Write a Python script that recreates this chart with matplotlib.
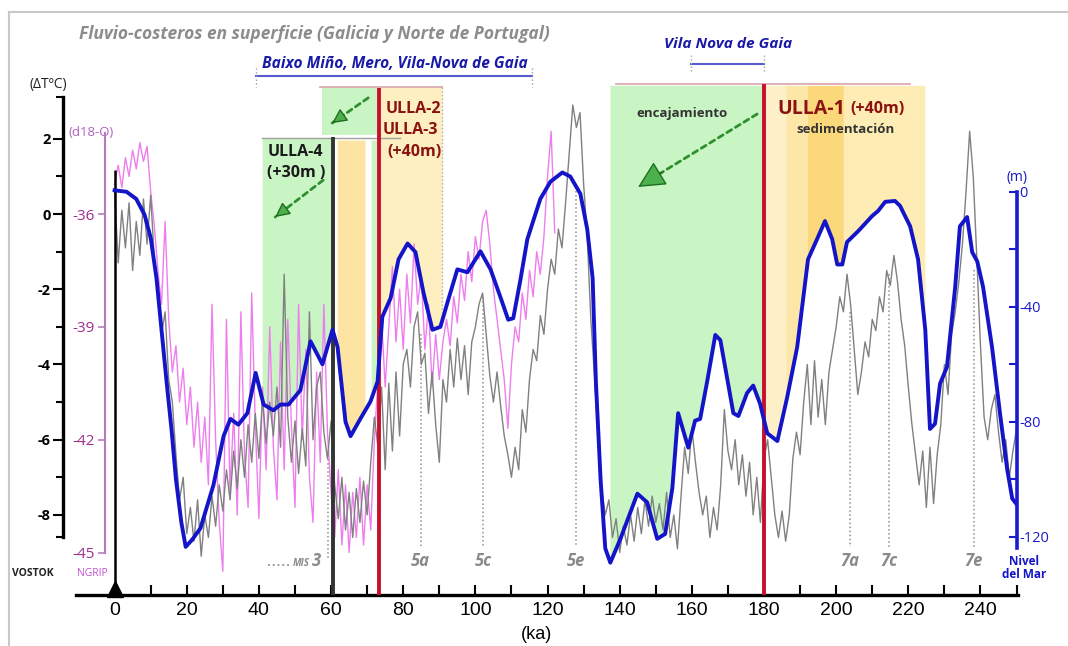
import numpy as np
import matplotlib.pyplot as plt
from matplotlib.lines import Line2D

FONT = ['Open Sans', 'DejaVu Sans']
NARROW = ['Liberation Sans Narrow', 'Liberation Sans', 'DejaVu Sans']
plt.rcParams['font.family'] = FONT

# VOSTOK temperature anomaly (deg C), one value per ka
vostok_age = np.arange(0, 251)
vostok_dT = [
    0.6, -1.3, 0.1, -0.9, 0.3, -1.5, -0.2, -1.1, 0.4, -0.8,
    0.5, -1.2, -1.8, -3.2, -2.6, -4.4, -5.0, -6.4, -7.6, -7.0,
    -8.5, -7.8, -8.7, -7.6, -9.1, -8.0, -8.6, -7.5, -8.3, -7.2,
    -7.9, -6.8, -7.6, -6.3, -7.3, -6.0, -7.0, -5.6, -6.6, -5.3,
    -6.5, -4.9, -6.1, -5.0, -5.9, -4.6, -6.2, -1.6, -5.4, -6.6,
    -5.5, -6.9, -5.7, -6.7, -2.6, -6.0, -4.6, -4.2, -5.8, -6.5,
    -5.5, -7.2, -8.1, -7.0, -8.4, -7.4, -8.6, -7.3, -8.2, -7.1,
    -8.0, -6.6, -5.4, -6.2, -4.6, -6.8, -4.5, -6.3, -4.2, -5.9,
    -4.0, -3.6, -4.6, -3.0, -2.6, -4.0, -3.7, -5.3, -4.2, -5.6,
    -6.6, -4.4, -5.0, -3.6, -4.6, -3.3, -4.4, -3.5, -4.8, -3.4,
    -3.0, -2.4, -2.1, -3.2, -4.3, -5.0, -4.2, -5.1, -5.9, -6.4,
    -7.0, -6.2, -6.8, -5.2, -5.8, -4.4, -3.6, -3.9, -2.7, -3.2,
    -2.0, -1.2, -1.6, -0.4, -0.9, 0.3, 1.6, 2.9, 2.3, 2.7,
    0.8, -0.6, -2.8, -4.3, -6.0, -7.3, -8.0, -7.6, -8.6, -8.1,
    -9.0, -8.3, -8.8, -8.0, -8.7, -7.8, -8.5, -7.6, -8.3, -7.5,
    -8.2, -7.7, -8.4, -7.4, -8.6, -8.0, -8.9, -7.5, -6.2, -6.9,
    -5.7, -6.6, -7.4, -8.0, -7.5, -8.6, -7.8, -8.4, -7.2, -5.2,
    -6.3, -6.8, -6.0, -7.2, -6.4, -7.5, -6.6, -8.0, -7.0, -8.2,
    -6.5, -6.0, -7.0, -8.0, -8.6, -7.9, -8.7, -8.0, -6.5, -5.8,
    -6.4, -5.0, -4.0, -5.6, -3.9, -5.4, -4.4, -5.6, -4.2, -3.6,
    -3.0, -2.2, -2.6, -1.6, -2.4, -3.6, -4.8, -4.2, -3.4, -3.8,
    -2.8, -3.1, -2.2, -2.6, -1.5, -1.9, -1.1, -1.8, -2.8, -3.5,
    -4.6, -5.6, -6.4, -7.2, -6.3, -7.8, -6.2, -7.7, -6.4, -5.6,
    -4.0, -4.8, -3.2, -2.6, -1.8, -0.8, 0.6, 2.2, 1.0, -1.2,
    -3.5, -5.4, -6.0, -5.2, -4.8, -5.8, -6.6, -6.0, -7.0, -6.3,
    -5.7]

# NGRIP d18-O (permil), one value per ka
ngrip_age = np.arange(0, 123)
ngrip_d18o = [
    -35.2, -34.7, -35.3, -34.5, -35.0, -34.3, -34.8, -34.1, -34.6, -34.2,
    -35.4, -36.3, -37.5, -38.4, -36.2, -38.8, -40.2, -39.5, -41.0, -40.1,
    -41.6, -40.6, -42.2, -41.0, -42.6, -41.4, -43.2, -38.4, -42.0, -44.2,
    -45.5, -38.8, -43.4, -41.3, -44.0, -38.6, -42.4, -43.8, -38.1, -41.6,
    -44.1, -40.6, -42.8, -39.0, -42.2, -43.6, -39.4, -42.8, -38.8, -41.6,
    -43.8, -38.4, -42.0, -39.6, -43.0, -44.2, -40.2, -42.6, -38.4, -41.8,
    -43.4, -44.6, -42.8, -44.8, -43.2, -45.0, -43.4, -44.6, -43.0, -44.8,
    -43.2, -44.4, -42.0, -40.4, -38.8, -40.6, -39.0, -37.4, -39.4, -38.0,
    -39.6, -37.6, -38.9, -36.8, -38.4, -37.6, -39.6, -38.4, -40.6, -39.2,
    -40.4, -39.4, -38.8, -39.5, -38.2, -38.9, -37.6, -38.3, -37.0, -37.8,
    -36.6, -37.2, -36.2, -35.9, -36.8, -38.0, -38.8, -39.6, -40.4, -41.7,
    -40.0, -39.0, -39.4, -38.1, -38.8, -37.5, -38.2, -37.0, -37.6, -36.6,
    -35.0, -33.8, -36.5]

# sea level curve (m)
sea_age = [0, 3.3, 6, 8.3, 10, 11.6, 13, 14.4, 15.8, 17, 18.5, 19.7, 21.5, 23.8,
           27.4, 30.2, 32.1, 34.3, 36.8, 39.1, 41.3, 44.0, 46.0, 48.2, 51.5, 54.3,
           57.6, 60.4, 61.8, 64.0, 65.4, 68.1, 70.9, 72.9, 74.2, 76.5, 78.7, 81.2,
           83.4, 85.6, 88.1, 90.3, 92.5, 95.0, 97.8, 101.4, 104.2, 106.9, 109.1,
           110.5, 112.5, 114.4, 118.0, 120.8, 124.1, 126.3, 129.1, 131.0, 132.5,
           133.4, 134.7, 136.0, 137.4, 140.2, 144.9, 147.6, 150.4, 152.6, 154.6,
           156.2, 159.0, 160.9, 162.3, 164.3, 166.5, 167.9, 171.5, 172.9, 175.3,
           177.0, 178.9, 180.9, 183.7, 186.4, 189.2, 192.2, 194.7, 196.9, 198.9,
           200.3, 201.7, 203.0, 206.1, 210.0, 211.6, 213.6, 216.3, 217.7, 220.5,
           222.7, 224.7, 226.0, 227.4, 228.8, 230.7, 233.0, 234.3, 236.3, 237.7,
           239.1, 240.7, 243.2, 245.4, 247.4, 248.8, 250.1]
sea_level = [0.5, 0, -2.5, -8, -16, -30, -48, -66, -83, -100, -115, -123.5, -121, -117,
             -102, -85, -79, -81, -77, -63, -74, -76, -74, -74, -69, -52,
             -60, -48, -54, -80, -85, -79, -73, -66, -43.5, -37, -23.5, -18,
             -21, -35, -48, -47, -37.5, -27, -28, -20.7, -27, -36.5, -44.5,
             -44, -30.5, -16.5, -2.5, 3.5, 6.7, 5.3, -0.7, -13, -30,
             -66, -100, -124, -129, -120.7, -105, -108, -120.7, -119, -103,
             -77, -89, -79.6, -79, -65.6, -49.8, -51.6, -77, -78, -70,
             -67.4, -73.7, -84, -86.7, -71.6, -54, -23.5, -16.5, -10.2, -16.5,
             -25.3, -25.3, -17.5, -13.7, -8.4, -6.7, -3.5, -3.2, -4.9, -12,
             -23.5, -48, -82.5, -80.7, -66.7, -61, -33, -12, -8.8, -21,
             -24.2, -33, -54, -77, -96.5, -106.7, -108.8]

# marine isotope stages
mis_labels = ['5a', '5c', '5e', '7a', '7c', '7e']
mis_age = [84.8, 102.2, 128.0, 203.9, 214.7, 238.2]
mis_top = [-3.2, -2.2, 0.6, -2.6, -1.6, -1.5]

x_ticks = list(range(0, 241, 20))
dT_ticks = [2, 0, -2, -4, -6, -8]
d18o_ticks = [-36, -39, -42, -45]
sea_ticks = [0, -40, -80, -120]

GREEN = '#c9f5c5'
YELLOW = '#fdefc0'
BLUE = '#1414c8'
RED = '#c8102e'
DKRED = '#8b1212'

fig = plt.figure(figsize=(10.68, 6.46), dpi=100)
ax = fig.add_axes([76 / 1068, 51 / 646, 942 / 1068, 575 / 646])
ax_p = ax.twinx()
ax_s = ax.twinx()
ax.set_xlim(-10.7, 250.4)
ax.set_ylim(-10.13, 5.16)
ax_p.set_ylim(-10.13 - 36, 5.16 - 36)
ax_s.set_ylim(-140.24, 59.73)


def sea_fill(a0, a1, top, color):
    ages = np.linspace(a0, a1, 150)
    lev = np.interp(ages, sea_age, sea_level)
    ax.fill_between(ages, lev, top, color=color, lw=0, zorder=1,
                    transform=ax_s.transData)


# shaded phases (filled down to the sea level curve)
sea_fill(40.9, 60.6, 18.8, GREEN)
sea_fill(61.7, 69.4, 18.0, '#fde4a2')
sea_fill(71.1, 72.8, 18.0, GREEN)
sea_fill(73.6, 90.8, 36.3, YELLOW)
sea_fill(137.3, 179.9, 37.0, GREEN)
sea_fill(180.2, 186.0, 37.0, '#fdf0c8')
sea_fill(186.0, 192.0, 37.0, '#fde7a8')
sea_fill(192.0, 202.0, 37.0, '#fbd97a')
sea_fill(202.0, 224.6, 37.0, '#fdecb4')
ax.fill_between([57.5, 72.8], 2.1, 3.37, color=GREEN, lw=0, zorder=1)

ax.plot([40.9, 79.0], [2.03, 2.03], color='#a0a0a0', lw=1, zorder=1.5)
ax.plot([57.0, 90.8], [3.38, 3.38], color='#dcaab0', lw=1.3, zorder=1.5)
ax.plot([139.0, 220.5], [3.46, 3.46], color='#dcaab0', lw=1.3, zorder=1.5)
ax.plot([90.8, 90.8], [3.37, -2.6], ':', color='#b0b0b0', lw=1, zorder=1.5)

# curves
ax.plot(ngrip_age, ngrip_d18o, color='#ee7eee', lw=1.0, zorder=2,
        transform=ax_p.transData)
ax.plot(vostok_age, vostok_dT, color='#808080', lw=1.0, zorder=3)

for a, top in zip(mis_age, mis_top):
    ax.plot([a, a], [top, -8.86], ':', color='#909090', lw=1.1, zorder=2.5)
for a, lbl in zip(mis_age, mis_labels):
    ax.text(a, -9.23, lbl, ha='center', va='center', style='italic',
            weight='bold', color='#8a8a8a', fontsize=12, zorder=7)
ax.plot([59.2, 59.2], [-6.4, -9.2], ':', color='#909090', lw=1.1, zorder=2.5)
ax.plot([42.5, 49.2], [-9.34, -9.34], ':', color='#909090', lw=1.3, zorder=2.5)
ax.text(57.2, -9.23, '3', ha='right', va='center', style='italic',
        weight='bold', color='#8a8a8a', fontsize=12, zorder=7)
ax.text(54.0, -9.3, 'MIS', ha='right', va='center', style='italic',
        weight='bold', color='#8a8a8a', fontsize=7, zorder=7)

# vertical markers
ax.plot([0, 0], [1.17, -10.13], color='black', lw=1.8, zorder=4,
        solid_capstyle='butt')
ax.plot([60.6, 60.6], [2.05, -10.13], color='#333333', lw=2.8, zorder=4,
        solid_capstyle='butt')
ax.plot([73.2, 73.2], [3.34, -10.13], color=RED, lw=2.8, zorder=4,
        solid_capstyle='butt')
ax.plot([179.9, 179.9], [3.47, -10.13], color=RED, lw=2.8, zorder=4,
        solid_capstyle='butt')

ax.plot(sea_age, sea_level, color=BLUE, lw=2.8, zorder=5,
        solid_joinstyle='round', transform=ax_s.transData)

ax.plot(0, -9.97, marker='^', ms=11, color='black', clip_on=False, zorder=8)


def green_arrow(tail, head, scale, frac):
    ax.annotate('', xy=head, xytext=tail, zorder=6,
                arrowprops=dict(arrowstyle='-', color='#2e8f2e', lw=2,
                                linestyle=(0, (2, 1.6)), shrinkA=0, shrinkB=0))
    back = (head[0] + frac * (tail[0] - head[0]),
            head[1] + frac * (tail[1] - head[1]))
    ax.annotate('', xy=head, xytext=back, zorder=6,
                arrowprops=dict(arrowstyle='-|>,head_length=%.2f,head_width=%.2f'
                                % (0.9 * scale, 0.45 * scale),
                                fc='#4cb04c', ec='#1f6e1f', lw=1,
                                shrinkA=0, shrinkB=0))


green_arrow((70.3, 3.09), (60.3, 2.42), 1.0, 0.25)
green_arrow((57.8, 0.90), (44.5, -0.08), 1.0, 0.22)
green_arrow((178.1, 2.66), (145.1, 0.72), 1.9, 0.2)

# annotations
ax.text(55.3, 4.79, 'Fluvio-costeros en superficie (Galicia y Norte de Portugal)',
        ha='center', va='center', color='#8c8c8c', style='italic',
        weight='bold', fontsize=12.5)
ax.text(77.8, 3.99, 'Baixo Miño, Mero, Vila-Nova de Gaia', ha='center',
        va='center', color='#1a1aa8', style='italic', weight='bold', fontsize=11.2)
ax.plot([39.2, 115.7], [3.67, 3.67], color='#5a5ad0', lw=1.5)
for a in (39.2, 115.7):
    ax.plot([a, a], [3.88, 3.38], ':', color='#a0a0a0', lw=1)
ax.text(170.0, 4.52, 'Vila Nova de Gaia', ha='center', va='center',
        color='#1a1aa8', style='italic', weight='bold', fontsize=11.1)
ax.plot([159.9, 180.0], [3.99, 3.99], color='#5a5ad0', lw=1.5)
for a in (159.9, 180.0):
    ax.plot([a, a], [4.22, 3.80], ':', color='#a0a0a0', lw=1)

ax.text(42.3, 1.66, 'ULLA-4', ha='left', va='center', weight='bold',
        color='#1a1a1a', fontsize=11.5, zorder=7)
ax.text(42.3, 1.08, '(+30m )', ha='left', va='center', weight='bold',
        color='#1a1a1a', fontsize=11.5, zorder=7)
ax.text(75.0, 2.79, 'ULLA-2', ha='left', va='center', weight='bold',
        color=DKRED, fontsize=11.5, zorder=7)
ax.text(74.4, 2.23, 'ULLA-3', ha='left', va='center', weight='bold',
        color=DKRED, fontsize=11.5, zorder=7)
ax.text(75.5, 1.66, '(+40m)', ha='left', va='center', weight='bold',
        color=DKRED, fontsize=11.5, zorder=7)
ax.text(183.6, 2.8, 'ULLA-1', ha='left', va='center', weight='bold',
        color=DKRED, fontsize=14, zorder=7)
ax.text(204.0, 2.79, '(+40m)', ha='left', va='center', weight='bold',
        color=DKRED, fontsize=11.5, zorder=7)
ax.text(202.5, 2.26, 'sedimentación', ha='center', va='center',
        weight='bold', color='#333333', fontsize=9.5, zorder=7)
ax.text(157.3, 2.68, 'encajamiento', ha='center', va='center',
        weight='bold', color='#333333', fontsize=9.5, zorder=7)

ax.text(-18.4, 3.45, '(ΔTºC)', ha='center', va='center', color='#222222',
        fontsize=10)
ax.text(-6.5, 2.18, '(d18-O)', ha='center', va='center', color='#b060c0',
        fontsize=9.5)
ax.text(-22.6, -9.55, 'VOSTOK', ha='center', va='center', color='#222222',
        fontsize=7.5, weight='bold')
ax.text(-6.2, -9.55, 'NGRIP', ha='center', va='center', color='#c050d0',
        fontsize=7.5)
ax.text(250.2, 0.96, '(m)', ha='center', va='center', color=BLUE, fontsize=10)
ax.text(252.1, -9.41, 'Nivel\ndel Mar', ha='center', va='center', color=BLUE,
        fontsize=8.5, weight='bold', linespacing=1.0)
ax.text(117, -11.17, '(ka)', ha='center', va='center', fontsize=13,
        family=NARROW)

# main axes: ka and VOSTOK
ax.spines['top'].set_visible(False)
ax.spines['right'].set_visible(False)
ax.spines['left'].set_position(('data', -14.27))
ax.spines['left'].set_bounds(-8.6, 3.1)
ax.spines['left'].set_linewidth(2.4)
ax.spines['bottom'].set_linewidth(2.4)
ax.set_xticks(x_ticks, [str(v) for v in x_ticks], fontfamily=NARROW, fontsize=14)
ax.set_xticks([v for v in range(10, 251, 20)], minor=True)
ax.tick_params(axis='x', which='both', direction='in', length=7, width=1.5, pad=5)
ax.set_yticks(dT_ticks, [str(v) for v in dT_ticks], fontweight='bold', fontsize=10.5)
ax.set_yticks([-8.6, -7, -5, -3, -1, 1, 3.1], minor=True)
ax.tick_params(axis='y', which='major', direction='out', length=7, width=1.5, pad=2)
ax.tick_params(axis='y', which='minor', direction='out', length=5, width=1.5)

# NGRIP axis
for s in ax_p.spines.values():
    s.set_visible(False)
ax_p.spines['left'].set_visible(True)
ax_p.spines['left'].set_position(('data', -2.8))
ax_p.spines['left'].set_bounds(-45, -33.85)
ax_p.spines['left'].set_color('#b57bbd')
ax_p.spines['left'].set_linewidth(1.5)
ax_p.yaxis.set_ticks_position('left')
ax_p.set_yticks(d18o_ticks, [str(v) for v in d18o_ticks], color='#9c2f8f', fontsize=11)
ax_p.tick_params(axis='y', direction='out', length=5, width=1.2, color='#b57bbd', pad=2)

# sea level axis
for s in ax_s.spines.values():
    s.set_visible(False)
ax_s.spines['right'].set_visible(True)
ax_s.spines['right'].set_position(('data', 250.1))
ax_s.spines['right'].set_bounds(-124, 0)
ax_s.spines['right'].set_color('#1a1ad2')
ax_s.spines['right'].set_linewidth(2.6)
ax_s.set_yticks(sea_ticks, [str(v) for v in sea_ticks], color='#1a1acc', fontsize=10.5)
ax_s.set_yticks([-20, -60, -100], minor=True)
ax_s.tick_params(axis='y', which='both', direction='in', length=6, width=1.5,
                 color='#1a1ad2', pad=2)

ax.set_xlim(-10.7, 250.4)
ax.set_ylim(-10.13, 5.16)

# picture frame
fig.add_artist(Line2D([9 / 1068, 1], [634 / 646, 634 / 646], color='#c8c8c8', lw=1.5))
fig.add_artist(Line2D([9 / 1068, 9 / 1068], [0, 634 / 646], color='#c8c8c8', lw=1.5))

fig.savefig('out.png', dpi=100)
